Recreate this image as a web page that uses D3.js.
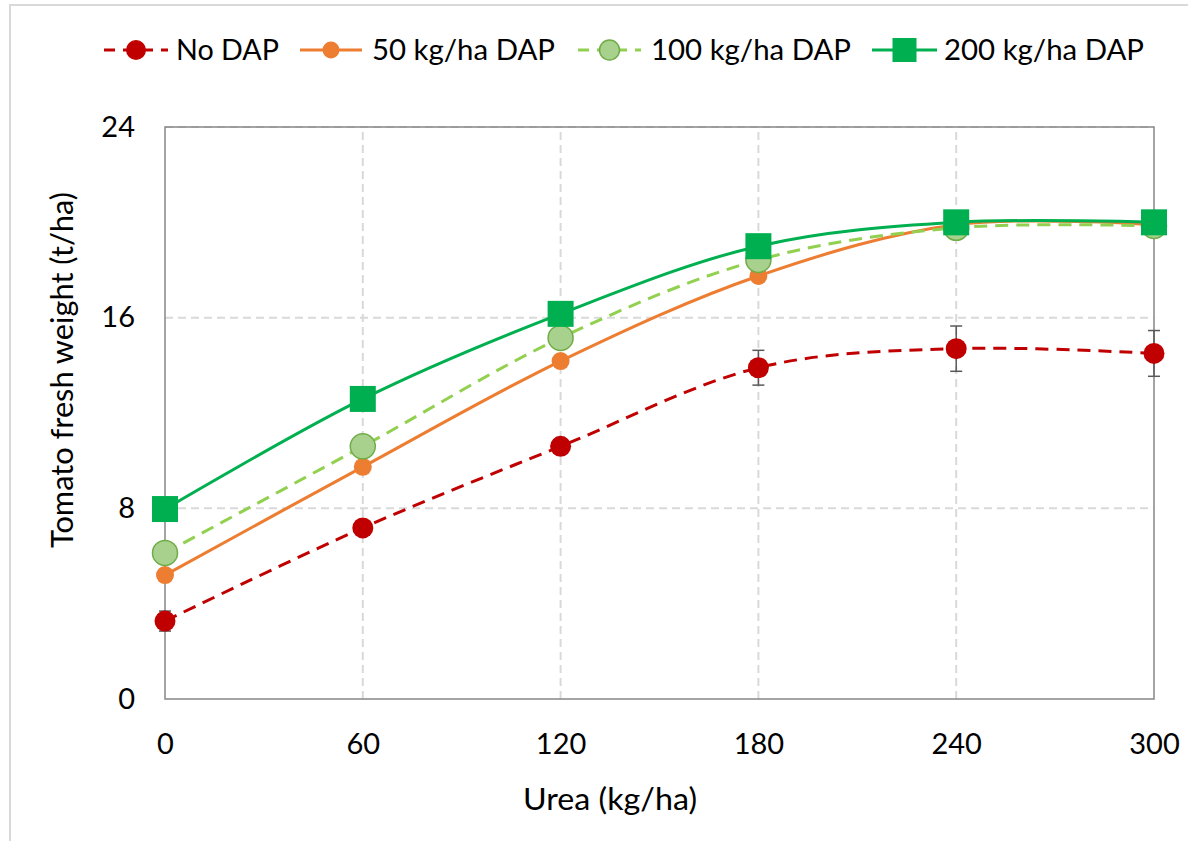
<!DOCTYPE html>
<html>
<head>
<meta charset="utf-8">
<script src="https://cdn.jsdelivr.net/npm/d3@7"></script>
<style>
html,body{margin:0;padding:0;background:#fff;}
svg{display:block;}
text{font-family:Lato,"Open Sans",sans-serif;fill:#000;}
</style>
</head>
<body>
<svg id="chart" width="1188" height="841"></svg>
<script>
const urea = [0, 60, 120, 180, 240, 300];
const noDAP = [3.27, 7.18, 10.6, 13.9, 14.7, 14.5];
const noDAPErr = [0.42, 0.2, 0.2, 0.73, 0.95, 0.96];
const dap50 = [5.2, 9.74, 14.18, 17.75, 19.9, 19.9];
const dap100 = [6.13, 10.6, 15.15, 18.42, 19.77, 19.85];
const dap200 = [7.97, 12.59, 16.16, 19.0, 20.0, 20.0];
const yTicks = [0, 8, 16, 24];
const xTicks = [0, 60, 120, 180, 240, 300];
const seriesNames = ["No DAP", "50 kg/ha DAP", "100 kg/ha DAP", "200 kg/ha DAP"];

const svg = d3.select("#chart");
const x = d3.scaleLinear().domain([0, 300]).range([165, 1154]);
const y = d3.scaleLinear().domain([0, 24]).range([699, 127]);

// outer chart border (light gray)
svg.append("rect").attr("x", 10).attr("y", 5).attr("width", 1300).attr("height", 1000)
  .attr("fill", "none").attr("stroke", "#d9d9d9").attr("stroke-width", 2);

// gridlines
const grid = svg.append("g");
grid.selectAll(".gy").data(yTicks.filter(d => d > 0)).join("line")
  .attr("x1", x(0)).attr("x2", x(300)).attr("y1", d => y(d)).attr("y2", d => y(d))
  .attr("stroke", "#d9d9d9").attr("stroke-width", 2).attr("stroke-dasharray", "8,5");
grid.selectAll(".gx").data(xTicks.filter(d => d > 0 && d < 300)).join("line")
  .attr("y1", y(0)).attr("y2", y(24)).attr("x1", d => x(d)).attr("x2", d => x(d))
  .attr("stroke", "#d9d9d9").attr("stroke-width", 2).attr("stroke-dasharray", "8,5");

// plot border
svg.append("rect").attr("x", x(0)).attr("y", y(24)).attr("width", x(300) - x(0)).attr("height", y(0) - y(24))
  .attr("fill", "none").attr("stroke", "#868686").attr("stroke-width", 1.5);

// axes labels
const yAxis = d3.axisLeft(y).tickValues(yTicks).tickSize(0).tickPadding(30);
const gy = svg.append("g").attr("transform", `translate(${x(0)},0)`).call(yAxis);
gy.select(".domain").remove();
gy.selectAll("text").attr("font-size", 29).attr("font-family", "Lato").attr("fill", "#000");

const xAxis = d3.axisBottom(x).tickValues(xTicks).tickSize(0).tickPadding(34);
const gx = svg.append("g").attr("transform", `translate(0,${y(0)})`).call(xAxis);
gx.select(".domain").remove();
gx.selectAll("text").attr("font-size", 29).attr("font-family", "Lato").attr("fill", "#000");

svg.append("text").attr("x", 610).attr("y", 810).attr("text-anchor", "middle")
  .attr("font-size", 30).attr("textLength", 174).attr("lengthAdjust", "spacingAndGlyphs").text("Urea (kg/ha)");
svg.append("text").attr("transform", "translate(73,370) rotate(-90)").attr("text-anchor", "middle")
  .attr("font-size", 30).attr("textLength", 356).attr("lengthAdjust", "spacingAndGlyphs").text("Tomato fresh weight (t/ha)");

const line = d3.line().x((d, i) => x(urea[i])).y(d => y(d)).curve(d3.curveCardinal.tension(0));

const styles = [
  {data: noDAP, color: "#c00000", dash: "13,8", width: 3},
  {data: dap50, color: "#ed7d31", dash: null, width: 3},
  {data: dap100, color: "#92d050", dash: "13,8", width: 3},
  {data: dap200, color: "#00b050", dash: null, width: 3}
];

// lines
styles.forEach(s => {
  svg.append("path").attr("d", line(s.data)).attr("fill", "none")
    .attr("stroke", s.color).attr("stroke-width", s.width)
    .attr("stroke-dasharray", s.dash);
});

// error bars for No DAP
const eb = svg.append("g").attr("stroke", "#595959").attr("stroke-width", 1.5);
urea.forEach((u, i) => {
  const e = noDAPErr[i];
  eb.append("line").attr("x1", x(u)).attr("x2", x(u)).attr("y1", y(noDAP[i] - e)).attr("y2", y(noDAP[i] + e));
  [noDAP[i] - e, noDAP[i] + e].forEach(v => {
    eb.append("line").attr("x1", x(u) - 6).attr("x2", x(u) + 6).attr("y1", y(v)).attr("y2", y(v));
  });
});

// markers
function drawMarker(g, type, cx, cy) {
  if (type === 0) g.append("circle").attr("cx", cx).attr("cy", cy).attr("r", 10.5).attr("fill", "#c00000");
  else if (type === 1) g.append("circle").attr("cx", cx).attr("cy", cy).attr("r", 9).attr("fill", "#ed7d31");
  else if (type === 2) g.append("circle").attr("cx", cx).attr("cy", cy).attr("r", 12.5).attr("fill", "#a9d18e").attr("stroke", "#70ad47").attr("stroke-width", 1.5);
  else g.append("rect").attr("x", cx - 13).attr("y", cy - 13).attr("width", 26).attr("height", 26).attr("fill", "#00b050");
}
const mk = svg.append("g");
styles.forEach((s, k) => {
  s.data.forEach((v, i) => drawMarker(mk, k, x(urea[i]), y(v)));
});

// legend
const legendPos = [
  {x1: 104, x2: 168, tx: 176, w: 103},
  {x1: 300, x2: 362, tx: 372, w: 183},
  {x1: 578, x2: 641, tx: 651, w: 200},
  {x1: 872, x2: 937, tx: 944, w: 200}
];
const ly = 50;
const lg = svg.append("g");
styles.forEach((s, k) => {
  const p = legendPos[k];
  lg.append("line").attr("x1", p.x1).attr("x2", p.x2).attr("y1", ly).attr("y2", ly)
    .attr("stroke", s.color).attr("stroke-width", 3)
    .attr("stroke-dasharray", s.dash ? "11,8" : null);
  const cx = (p.x1 + p.x2) / 2;
  if (k === 0) lg.append("circle").attr("cx", cx).attr("cy", ly).attr("r", 10).attr("fill", "#c00000");
  else if (k === 1) lg.append("circle").attr("cx", cx).attr("cy", ly).attr("r", 8.5).attr("fill", "#ed7d31");
  else if (k === 2) lg.append("circle").attr("cx", cx).attr("cy", ly).attr("r", 10).attr("fill", "#a9d18e").attr("stroke", "#70ad47").attr("stroke-width", 1.5);
  else lg.append("rect").attr("x", cx - 12).attr("y", ly - 12).attr("width", 24).attr("height", 24).attr("fill", "#00b050");
  lg.append("text").attr("x", p.tx).attr("y", ly).attr("dy", "0.35em").attr("font-size", 29)
    .attr("textLength", p.w).attr("lengthAdjust", "spacingAndGlyphs").text(seriesNames[k]);
});
</script>
</body>
</html>
